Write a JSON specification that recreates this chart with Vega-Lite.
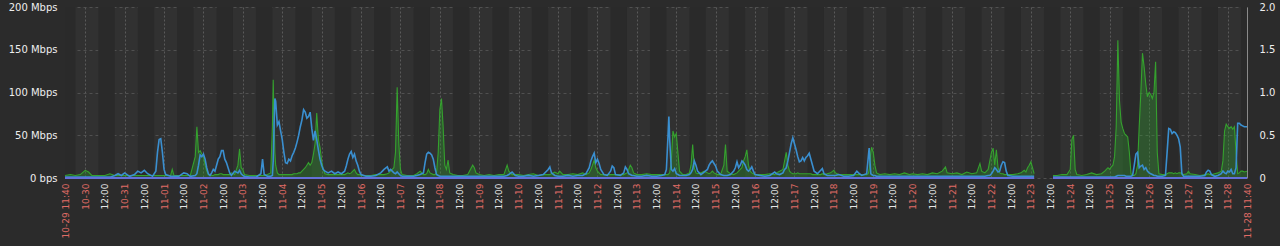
{
"$schema": "https://vega.github.io/schema/vega-lite/v6.json",
"width": 1182, "height": 171,
"autosize": "none",
"padding": {"left": 65, "top": 7, "right": 33, "bottom": 68},
"background": "#2b2b2b",
"config": {"view": {"fill": "#313131", "stroke": null}, "font": "DejaVu Sans"},
"datasets": {
"bands": [
{"s":"2023-10-29T11:40:00Z","e":"2023-10-29T18:00:00Z"},
{"s":"2023-10-30T08:00:00Z","e":"2023-10-30T18:00:00Z"},
{"s":"2023-10-31T08:00:00Z","e":"2023-10-31T18:00:00Z"},
{"s":"2023-11-01T08:00:00Z","e":"2023-11-01T18:00:00Z"},
{"s":"2023-11-02T08:00:00Z","e":"2023-11-02T18:00:00Z"},
{"s":"2023-11-03T08:00:00Z","e":"2023-11-03T18:00:00Z"},
{"s":"2023-11-04T08:00:00Z","e":"2023-11-04T18:00:00Z"},
{"s":"2023-11-05T08:00:00Z","e":"2023-11-05T18:00:00Z"},
{"s":"2023-11-06T08:00:00Z","e":"2023-11-06T18:00:00Z"},
{"s":"2023-11-07T08:00:00Z","e":"2023-11-07T18:00:00Z"},
{"s":"2023-11-08T08:00:00Z","e":"2023-11-08T18:00:00Z"},
{"s":"2023-11-09T08:00:00Z","e":"2023-11-09T18:00:00Z"},
{"s":"2023-11-10T08:00:00Z","e":"2023-11-10T18:00:00Z"},
{"s":"2023-11-11T08:00:00Z","e":"2023-11-11T18:00:00Z"},
{"s":"2023-11-12T08:00:00Z","e":"2023-11-12T18:00:00Z"},
{"s":"2023-11-13T08:00:00Z","e":"2023-11-13T18:00:00Z"},
{"s":"2023-11-14T08:00:00Z","e":"2023-11-14T18:00:00Z"},
{"s":"2023-11-15T08:00:00Z","e":"2023-11-15T18:00:00Z"},
{"s":"2023-11-16T08:00:00Z","e":"2023-11-16T18:00:00Z"},
{"s":"2023-11-17T08:00:00Z","e":"2023-11-17T18:00:00Z"},
{"s":"2023-11-18T08:00:00Z","e":"2023-11-18T18:00:00Z"},
{"s":"2023-11-19T08:00:00Z","e":"2023-11-19T18:00:00Z"},
{"s":"2023-11-20T08:00:00Z","e":"2023-11-20T18:00:00Z"},
{"s":"2023-11-21T08:00:00Z","e":"2023-11-21T18:00:00Z"},
{"s":"2023-11-22T08:00:00Z","e":"2023-11-22T18:00:00Z"},
{"s":"2023-11-23T08:00:00Z","e":"2023-11-23T18:00:00Z"},
{"s":"2023-11-24T08:00:00Z","e":"2023-11-24T18:00:00Z"},
{"s":"2023-11-25T08:00:00Z","e":"2023-11-25T18:00:00Z"},
{"s":"2023-11-26T08:00:00Z","e":"2023-11-26T18:00:00Z"},
{"s":"2023-11-27T08:00:00Z","e":"2023-11-27T18:00:00Z"},
{"s":"2023-11-28T08:00:00Z","e":"2023-11-28T11:40:00Z"}
],
"traffic": [
{"t":"2023-10-29T11:40:00Z","s":1,"b":1,"g":3},
{"t":"2023-10-29T15:00:00Z","s":1,"b":1,"g":4},
{"t":"2023-10-29T18:00:00Z","s":1,"b":1,"g":3},
{"t":"2023-10-29T21:00:00Z","s":1,"b":1,"g":4},
{"t":"2023-10-30T00:00:00Z","s":1,"b":1,"g":9},
{"t":"2023-10-30T02:00:00Z","s":1,"b":1,"g":7},
{"t":"2023-10-30T04:00:00Z","s":1,"b":1,"g":3},
{"t":"2023-10-30T08:00:00Z","s":1,"b":1,"g":3},
{"t":"2023-10-30T12:00:00Z","s":1,"b":1,"g":3},
{"t":"2023-10-30T15:00:00Z","s":1,"b":1,"g":5},
{"t":"2023-10-30T18:00:00Z","s":1,"b":3,"g":3},
{"t":"2023-10-30T20:00:00Z","s":1,"b":5,"g":3},
{"t":"2023-10-30T22:00:00Z","s":1,"b":3,"g":3},
{"t":"2023-10-31T00:00:00Z","s":1,"b":6,"g":3},
{"t":"2023-10-31T03:00:00Z","s":1,"b":2,"g":3},
{"t":"2023-10-31T06:00:00Z","s":1,"b":4,"g":3},
{"t":"2023-10-31T08:00:00Z","s":1,"b":8,"g":3},
{"t":"2023-10-31T10:00:00Z","s":1,"b":6,"g":3},
{"t":"2023-10-31T12:00:00Z","s":1,"b":9,"g":3},
{"t":"2023-10-31T14:00:00Z","s":1,"b":5,"g":3},
{"t":"2023-10-31T17:00:00Z","s":1,"b":2,"g":3},
{"t":"2023-10-31T19:00:00Z","s":1,"b":8,"g":3},
{"t":"2023-10-31T20:00:00Z","s":1,"b":30,"g":3},
{"t":"2023-10-31T21:00:00Z","s":1,"b":45,"g":3},
{"t":"2023-10-31T22:00:00Z","s":1,"b":46,"g":3},
{"t":"2023-10-31T23:00:00Z","s":1,"b":30,"g":3},
{"t":"2023-11-01T00:00:00Z","s":1,"b":10,"g":3},
{"t":"2023-11-01T01:00:00Z","s":1,"b":4,"g":3},
{"t":"2023-11-01T04:00:00Z","s":1,"b":2,"g":3},
{"t":"2023-11-01T05:00:00Z","s":1,"b":2,"g":10},
{"t":"2023-11-01T06:00:00Z","s":1,"b":2,"g":3},
{"t":"2023-11-01T09:00:00Z","s":1,"b":2,"g":3},
{"t":"2023-11-01T12:00:00Z","s":1,"b":6,"g":3},
{"t":"2023-11-01T14:00:00Z","s":1,"b":5,"g":3},
{"t":"2023-11-01T16:00:00Z","s":1,"b":2,"g":3},
{"t":"2023-11-01T19:00:00Z","s":1,"b":3,"g":25},
{"t":"2023-11-01T20:00:00Z","s":1,"b":5,"g":60},
{"t":"2023-11-01T21:00:00Z","s":1,"b":15,"g":30},
{"t":"2023-11-01T22:00:00Z","s":1,"b":27,"g":32},
{"t":"2023-11-01T23:00:00Z","s":1,"b":25,"g":28},
{"t":"2023-11-02T00:00:00Z","s":1,"b":28,"g":25},
{"t":"2023-11-02T01:00:00Z","s":1,"b":22,"g":15},
{"t":"2023-11-02T02:00:00Z","s":1,"b":12,"g":8},
{"t":"2023-11-02T03:00:00Z","s":1,"b":5,"g":4},
{"t":"2023-11-02T04:00:00Z","s":1,"b":3,"g":4},
{"t":"2023-11-02T05:00:00Z","s":1,"b":6,"g":3},
{"t":"2023-11-02T06:00:00Z","s":1,"b":10,"g":3},
{"t":"2023-11-02T07:00:00Z","s":1,"b":8,"g":4},
{"t":"2023-11-02T08:00:00Z","s":1,"b":15,"g":4},
{"t":"2023-11-02T09:00:00Z","s":1,"b":22,"g":4},
{"t":"2023-11-02T10:00:00Z","s":1,"b":25,"g":5},
{"t":"2023-11-02T11:00:00Z","s":1,"b":32,"g":5},
{"t":"2023-11-02T12:00:00Z","s":1,"b":32,"g":4},
{"t":"2023-11-02T13:00:00Z","s":1,"b":22,"g":4},
{"t":"2023-11-02T14:00:00Z","s":1,"b":18,"g":4},
{"t":"2023-11-02T15:00:00Z","s":1,"b":12,"g":4},
{"t":"2023-11-02T16:00:00Z","s":1,"b":6,"g":4},
{"t":"2023-11-02T17:00:00Z","s":1,"b":3,"g":6},
{"t":"2023-11-02T19:00:00Z","s":1,"b":8,"g":4},
{"t":"2023-11-02T21:00:00Z","s":1,"b":6,"g":15},
{"t":"2023-11-02T22:00:00Z","s":1,"b":9,"g":34},
{"t":"2023-11-02T23:00:00Z","s":1,"b":5,"g":12},
{"t":"2023-11-03T00:00:00Z","s":1,"b":3,"g":10},
{"t":"2023-11-03T01:00:00Z","s":1,"b":2,"g":4},
{"t":"2023-11-03T04:00:00Z","s":1,"b":1,"g":3},
{"t":"2023-11-03T08:00:00Z","s":1,"b":1,"g":3},
{"t":"2023-11-03T11:00:00Z","s":1,"b":5,"g":3},
{"t":"2023-11-03T12:00:00Z","s":1,"b":22,"g":3},
{"t":"2023-11-03T13:00:00Z","s":1,"b":4,"g":3},
{"t":"2023-11-03T15:00:00Z","s":1,"b":2,"g":4},
{"t":"2023-11-03T17:00:00Z","s":1,"b":2,"g":6},
{"t":"2023-11-03T18:00:00Z","s":1,"b":3,"g":60},
{"t":"2023-11-03T18:30:00Z","s":1,"b":20,"g":115},
{"t":"2023-11-03T19:00:00Z","s":1,"b":60,"g":70},
{"t":"2023-11-03T19:30:00Z","s":1,"b":93,"g":30},
{"t":"2023-11-03T20:00:00Z","s":1,"b":90,"g":15},
{"t":"2023-11-03T21:00:00Z","s":1,"b":62,"g":6},
{"t":"2023-11-03T22:00:00Z","s":1,"b":66,"g":4},
{"t":"2023-11-03T23:00:00Z","s":1,"b":55,"g":4},
{"t":"2023-11-04T00:00:00Z","s":1,"b":45,"g":4},
{"t":"2023-11-04T01:00:00Z","s":1,"b":30,"g":4},
{"t":"2023-11-04T02:00:00Z","s":1,"b":18,"g":4},
{"t":"2023-11-04T03:00:00Z","s":1,"b":17,"g":4},
{"t":"2023-11-04T04:00:00Z","s":1,"b":22,"g":4},
{"t":"2023-11-04T05:00:00Z","s":1,"b":20,"g":4},
{"t":"2023-11-04T06:00:00Z","s":1,"b":26,"g":4},
{"t":"2023-11-04T07:00:00Z","s":1,"b":30,"g":5},
{"t":"2023-11-04T08:00:00Z","s":1,"b":35,"g":5},
{"t":"2023-11-04T09:00:00Z","s":1,"b":42,"g":5},
{"t":"2023-11-04T10:00:00Z","s":1,"b":50,"g":6},
{"t":"2023-11-04T11:00:00Z","s":1,"b":60,"g":6},
{"t":"2023-11-04T12:00:00Z","s":1,"b":68,"g":8},
{"t":"2023-11-04T13:00:00Z","s":1,"b":80,"g":10},
{"t":"2023-11-04T14:00:00Z","s":1,"b":77,"g":12},
{"t":"2023-11-04T15:00:00Z","s":1,"b":70,"g":15},
{"t":"2023-11-04T16:00:00Z","s":1,"b":72,"g":18},
{"t":"2023-11-04T17:00:00Z","s":1,"b":77,"g":15},
{"t":"2023-11-04T18:00:00Z","s":1,"b":58,"g":18},
{"t":"2023-11-04T19:00:00Z","s":1,"b":44,"g":28},
{"t":"2023-11-04T20:00:00Z","s":1,"b":55,"g":40},
{"t":"2023-11-04T21:00:00Z","s":1,"b":45,"g":76},
{"t":"2023-11-04T22:00:00Z","s":1,"b":33,"g":45},
{"t":"2023-11-04T23:00:00Z","s":1,"b":22,"g":36},
{"t":"2023-11-05T00:00:00Z","s":1,"b":15,"g":20},
{"t":"2023-11-05T01:00:00Z","s":1,"b":10,"g":10},
{"t":"2023-11-05T02:00:00Z","s":1,"b":8,"g":5},
{"t":"2023-11-05T04:00:00Z","s":1,"b":6,"g":4},
{"t":"2023-11-05T06:00:00Z","s":1,"b":8,"g":4},
{"t":"2023-11-05T08:00:00Z","s":1,"b":5,"g":4},
{"t":"2023-11-05T10:00:00Z","s":1,"b":7,"g":4},
{"t":"2023-11-05T12:00:00Z","s":1,"b":5,"g":4},
{"t":"2023-11-05T14:00:00Z","s":1,"b":8,"g":4},
{"t":"2023-11-05T15:00:00Z","s":1,"b":14,"g":5},
{"t":"2023-11-05T16:00:00Z","s":1,"b":22,"g":6},
{"t":"2023-11-05T17:00:00Z","s":1,"b":28,"g":5},
{"t":"2023-11-05T18:00:00Z","s":1,"b":31,"g":6},
{"t":"2023-11-05T19:00:00Z","s":1,"b":24,"g":8},
{"t":"2023-11-05T20:00:00Z","s":1,"b":28,"g":10},
{"t":"2023-11-05T21:00:00Z","s":1,"b":20,"g":6},
{"t":"2023-11-05T22:00:00Z","s":1,"b":15,"g":4},
{"t":"2023-11-05T23:00:00Z","s":1,"b":8,"g":4},
{"t":"2023-11-06T00:00:00Z","s":1,"b":4,"g":3},
{"t":"2023-11-06T03:00:00Z","s":1,"b":2,"g":3},
{"t":"2023-11-06T06:00:00Z","s":1,"b":2,"g":3},
{"t":"2023-11-06T09:00:00Z","s":1,"b":3,"g":4},
{"t":"2023-11-06T12:00:00Z","s":1,"b":6,"g":4},
{"t":"2023-11-06T14:00:00Z","s":1,"b":10,"g":4},
{"t":"2023-11-06T16:00:00Z","s":1,"b":13,"g":5},
{"t":"2023-11-06T17:00:00Z","s":1,"b":8,"g":6},
{"t":"2023-11-06T18:00:00Z","s":1,"b":10,"g":8},
{"t":"2023-11-06T20:00:00Z","s":1,"b":6,"g":12},
{"t":"2023-11-06T21:00:00Z","s":1,"b":5,"g":30},
{"t":"2023-11-06T22:00:00Z","s":1,"b":7,"g":106},
{"t":"2023-11-06T23:00:00Z","s":1,"b":5,"g":40},
{"t":"2023-11-07T00:00:00Z","s":1,"b":3,"g":10},
{"t":"2023-11-07T01:00:00Z","s":1,"b":2,"g":4},
{"t":"2023-11-07T04:00:00Z","s":1,"b":2,"g":3},
{"t":"2023-11-07T08:00:00Z","s":1,"b":2,"g":3},
{"t":"2023-11-07T10:00:00Z","s":1,"b":3,"g":5},
{"t":"2023-11-07T12:00:00Z","s":1,"b":4,"g":8},
{"t":"2023-11-07T14:00:00Z","s":1,"b":6,"g":4},
{"t":"2023-11-07T15:00:00Z","s":1,"b":18,"g":4},
{"t":"2023-11-07T16:00:00Z","s":1,"b":28,"g":5},
{"t":"2023-11-07T17:00:00Z","s":1,"b":30,"g":10},
{"t":"2023-11-07T18:00:00Z","s":1,"b":29,"g":6},
{"t":"2023-11-07T19:00:00Z","s":1,"b":27,"g":5},
{"t":"2023-11-07T20:00:00Z","s":1,"b":22,"g":4},
{"t":"2023-11-07T21:00:00Z","s":1,"b":12,"g":4},
{"t":"2023-11-07T22:00:00Z","s":1,"b":4,"g":6},
{"t":"2023-11-07T23:00:00Z","s":1,"b":3,"g":30},
{"t":"2023-11-08T00:00:00Z","s":1,"b":2,"g":80},
{"t":"2023-11-08T01:00:00Z","s":1,"b":2,"g":93},
{"t":"2023-11-08T02:00:00Z","s":1,"b":2,"g":60},
{"t":"2023-11-08T03:00:00Z","s":1,"b":2,"g":15},
{"t":"2023-11-08T04:00:00Z","s":1,"b":2,"g":10},
{"t":"2023-11-08T05:00:00Z","s":1,"b":2,"g":21},
{"t":"2023-11-08T06:00:00Z","s":1,"b":2,"g":6},
{"t":"2023-11-08T08:00:00Z","s":1,"b":2,"g":4},
{"t":"2023-11-08T11:00:00Z","s":1,"b":2,"g":3},
{"t":"2023-11-08T14:00:00Z","s":1,"b":2,"g":3},
{"t":"2023-11-08T17:00:00Z","s":1,"b":2,"g":4},
{"t":"2023-11-08T20:00:00Z","s":1,"b":2,"g":15},
{"t":"2023-11-08T21:00:00Z","s":1,"b":2,"g":12},
{"t":"2023-11-08T22:00:00Z","s":1,"b":2,"g":6},
{"t":"2023-11-09T00:00:00Z","s":1,"b":2,"g":4},
{"t":"2023-11-09T03:00:00Z","s":1,"b":2,"g":3},
{"t":"2023-11-09T06:00:00Z","s":1,"b":2,"g":4},
{"t":"2023-11-09T09:00:00Z","s":1,"b":2,"g":3},
{"t":"2023-11-09T12:00:00Z","s":1,"b":2,"g":4},
{"t":"2023-11-09T15:00:00Z","s":1,"b":2,"g":4},
{"t":"2023-11-09T17:00:00Z","s":1,"b":3,"g":15},
{"t":"2023-11-09T18:00:00Z","s":1,"b":4,"g":8},
{"t":"2023-11-09T20:00:00Z","s":1,"b":7,"g":4},
{"t":"2023-11-09T22:00:00Z","s":1,"b":3,"g":4},
{"t":"2023-11-10T00:00:00Z","s":1,"b":2,"g":4},
{"t":"2023-11-10T03:00:00Z","s":1,"b":2,"g":3},
{"t":"2023-11-10T06:00:00Z","s":1,"b":3,"g":4},
{"t":"2023-11-10T09:00:00Z","s":1,"b":2,"g":5},
{"t":"2023-11-10T12:00:00Z","s":1,"b":3,"g":3},
{"t":"2023-11-10T15:00:00Z","s":1,"b":4,"g":4},
{"t":"2023-11-10T18:00:00Z","s":1,"b":10,"g":4},
{"t":"2023-11-10T19:00:00Z","s":1,"b":13,"g":4},
{"t":"2023-11-10T20:00:00Z","s":1,"b":6,"g":5},
{"t":"2023-11-10T22:00:00Z","s":1,"b":3,"g":7},
{"t":"2023-11-11T00:00:00Z","s":1,"b":2,"g":5},
{"t":"2023-11-11T01:00:00Z","s":1,"b":2,"g":8},
{"t":"2023-11-11T03:00:00Z","s":1,"b":2,"g":4},
{"t":"2023-11-11T06:00:00Z","s":1,"b":3,"g":4},
{"t":"2023-11-11T09:00:00Z","s":1,"b":2,"g":5},
{"t":"2023-11-11T12:00:00Z","s":1,"b":3,"g":4},
{"t":"2023-11-11T15:00:00Z","s":1,"b":3,"g":6},
{"t":"2023-11-11T17:00:00Z","s":1,"b":5,"g":4},
{"t":"2023-11-11T19:00:00Z","s":1,"b":12,"g":6},
{"t":"2023-11-11T20:00:00Z","s":1,"b":20,"g":10},
{"t":"2023-11-11T21:00:00Z","s":1,"b":25,"g":15},
{"t":"2023-11-11T22:00:00Z","s":1,"b":29,"g":21},
{"t":"2023-11-11T23:00:00Z","s":1,"b":18,"g":12},
{"t":"2023-11-12T00:00:00Z","s":1,"b":22,"g":8},
{"t":"2023-11-12T01:00:00Z","s":1,"b":17,"g":6},
{"t":"2023-11-12T02:00:00Z","s":1,"b":10,"g":4},
{"t":"2023-11-12T04:00:00Z","s":1,"b":4,"g":4},
{"t":"2023-11-12T06:00:00Z","s":1,"b":3,"g":4},
{"t":"2023-11-12T08:00:00Z","s":1,"b":8,"g":4},
{"t":"2023-11-12T09:00:00Z","s":1,"b":14,"g":4},
{"t":"2023-11-12T10:00:00Z","s":1,"b":12,"g":4},
{"t":"2023-11-12T11:00:00Z","s":1,"b":4,"g":4},
{"t":"2023-11-12T14:00:00Z","s":1,"b":3,"g":4},
{"t":"2023-11-12T16:00:00Z","s":1,"b":6,"g":4},
{"t":"2023-11-12T17:00:00Z","s":1,"b":13,"g":5},
{"t":"2023-11-12T18:00:00Z","s":1,"b":10,"g":6},
{"t":"2023-11-12T19:00:00Z","s":1,"b":5,"g":10},
{"t":"2023-11-12T20:00:00Z","s":1,"b":4,"g":15},
{"t":"2023-11-12T21:00:00Z","s":1,"b":3,"g":12},
{"t":"2023-11-12T22:00:00Z","s":1,"b":3,"g":6},
{"t":"2023-11-13T00:00:00Z","s":1,"b":2,"g":4},
{"t":"2023-11-13T03:00:00Z","s":1,"b":2,"g":4},
{"t":"2023-11-13T06:00:00Z","s":1,"b":3,"g":5},
{"t":"2023-11-13T09:00:00Z","s":1,"b":2,"g":4},
{"t":"2023-11-13T12:00:00Z","s":1,"b":2,"g":4},
{"t":"2023-11-13T15:00:00Z","s":1,"b":3,"g":4},
{"t":"2023-11-13T17:00:00Z","s":1,"b":4,"g":4},
{"t":"2023-11-13T18:00:00Z","s":1,"b":10,"g":4},
{"t":"2023-11-13T19:00:00Z","s":1,"b":50,"g":4},
{"t":"2023-11-13T19:30:00Z","s":1,"b":72,"g":5},
{"t":"2023-11-13T20:00:00Z","s":1,"b":45,"g":6},
{"t":"2023-11-13T21:00:00Z","s":1,"b":10,"g":20},
{"t":"2023-11-13T22:00:00Z","s":1,"b":8,"g":55},
{"t":"2023-11-13T23:00:00Z","s":1,"b":11,"g":48},
{"t":"2023-11-14T00:00:00Z","s":1,"b":5,"g":52},
{"t":"2023-11-14T01:00:00Z","s":1,"b":4,"g":30},
{"t":"2023-11-14T02:00:00Z","s":1,"b":3,"g":8},
{"t":"2023-11-14T04:00:00Z","s":1,"b":3,"g":4},
{"t":"2023-11-14T06:00:00Z","s":1,"b":3,"g":4},
{"t":"2023-11-14T08:00:00Z","s":1,"b":4,"g":6},
{"t":"2023-11-14T09:00:00Z","s":1,"b":6,"g":15},
{"t":"2023-11-14T10:00:00Z","s":1,"b":10,"g":39},
{"t":"2023-11-14T11:00:00Z","s":1,"b":20,"g":12},
{"t":"2023-11-14T12:00:00Z","s":1,"b":15,"g":6},
{"t":"2023-11-14T13:00:00Z","s":1,"b":8,"g":5},
{"t":"2023-11-14T15:00:00Z","s":1,"b":4,"g":6},
{"t":"2023-11-14T17:00:00Z","s":1,"b":7,"g":8},
{"t":"2023-11-14T19:00:00Z","s":1,"b":10,"g":6},
{"t":"2023-11-14T20:00:00Z","s":1,"b":15,"g":5},
{"t":"2023-11-14T21:00:00Z","s":1,"b":18,"g":6},
{"t":"2023-11-14T22:00:00Z","s":1,"b":20,"g":8},
{"t":"2023-11-14T23:00:00Z","s":1,"b":17,"g":6},
{"t":"2023-11-15T00:00:00Z","s":1,"b":14,"g":5},
{"t":"2023-11-15T01:00:00Z","s":1,"b":8,"g":4},
{"t":"2023-11-15T03:00:00Z","s":1,"b":4,"g":4},
{"t":"2023-11-15T05:00:00Z","s":1,"b":3,"g":15},
{"t":"2023-11-15T06:00:00Z","s":1,"b":3,"g":39},
{"t":"2023-11-15T07:00:00Z","s":1,"b":3,"g":8},
{"t":"2023-11-15T09:00:00Z","s":1,"b":4,"g":5},
{"t":"2023-11-15T11:00:00Z","s":1,"b":8,"g":4},
{"t":"2023-11-15T12:00:00Z","s":1,"b":12,"g":5},
{"t":"2023-11-15T13:00:00Z","s":1,"b":19,"g":6},
{"t":"2023-11-15T14:00:00Z","s":1,"b":12,"g":8},
{"t":"2023-11-15T15:00:00Z","s":1,"b":15,"g":10},
{"t":"2023-11-15T16:00:00Z","s":1,"b":20,"g":12},
{"t":"2023-11-15T17:00:00Z","s":1,"b":18,"g":20},
{"t":"2023-11-15T18:00:00Z","s":1,"b":15,"g":25},
{"t":"2023-11-15T19:00:00Z","s":1,"b":10,"g":33},
{"t":"2023-11-15T20:00:00Z","s":1,"b":8,"g":15},
{"t":"2023-11-15T21:00:00Z","s":1,"b":10,"g":8},
{"t":"2023-11-15T22:00:00Z","s":1,"b":13,"g":6},
{"t":"2023-11-15T23:00:00Z","s":1,"b":8,"g":5},
{"t":"2023-11-16T00:00:00Z","s":1,"b":4,"g":4},
{"t":"2023-11-16T03:00:00Z","s":1,"b":3,"g":4},
{"t":"2023-11-16T06:00:00Z","s":1,"b":2,"g":4},
{"t":"2023-11-16T09:00:00Z","s":1,"b":3,"g":5},
{"t":"2023-11-16T12:00:00Z","s":1,"b":7,"g":4},
{"t":"2023-11-16T13:00:00Z","s":1,"b":5,"g":6},
{"t":"2023-11-16T15:00:00Z","s":1,"b":4,"g":8},
{"t":"2023-11-16T17:00:00Z","s":1,"b":6,"g":10},
{"t":"2023-11-16T18:00:00Z","s":1,"b":10,"g":20},
{"t":"2023-11-16T19:00:00Z","s":1,"b":12,"g":30},
{"t":"2023-11-16T20:00:00Z","s":1,"b":20,"g":15},
{"t":"2023-11-16T21:00:00Z","s":1,"b":30,"g":8},
{"t":"2023-11-16T22:00:00Z","s":1,"b":40,"g":6},
{"t":"2023-11-16T23:00:00Z","s":1,"b":47,"g":5},
{"t":"2023-11-17T00:00:00Z","s":1,"b":40,"g":5},
{"t":"2023-11-17T01:00:00Z","s":1,"b":33,"g":5},
{"t":"2023-11-17T02:00:00Z","s":1,"b":25,"g":6},
{"t":"2023-11-17T03:00:00Z","s":1,"b":19,"g":5},
{"t":"2023-11-17T04:00:00Z","s":1,"b":20,"g":5},
{"t":"2023-11-17T05:00:00Z","s":1,"b":24,"g":5},
{"t":"2023-11-17T06:00:00Z","s":1,"b":20,"g":5},
{"t":"2023-11-17T07:00:00Z","s":1,"b":24,"g":5},
{"t":"2023-11-17T08:00:00Z","s":1,"b":26,"g":5},
{"t":"2023-11-17T09:00:00Z","s":1,"b":29,"g":5},
{"t":"2023-11-17T10:00:00Z","s":1,"b":22,"g":5},
{"t":"2023-11-17T11:00:00Z","s":1,"b":15,"g":4},
{"t":"2023-11-17T12:00:00Z","s":1,"b":8,"g":4},
{"t":"2023-11-17T14:00:00Z","s":1,"b":5,"g":4},
{"t":"2023-11-17T16:00:00Z","s":1,"b":9,"g":4},
{"t":"2023-11-17T17:00:00Z","s":1,"b":11,"g":5},
{"t":"2023-11-17T18:00:00Z","s":1,"b":5,"g":4},
{"t":"2023-11-17T20:00:00Z","s":1,"b":3,"g":5},
{"t":"2023-11-17T22:00:00Z","s":1,"b":3,"g":6},
{"t":"2023-11-18T00:00:00Z","s":1,"b":3,"g":9},
{"t":"2023-11-18T01:00:00Z","s":1,"b":3,"g":6},
{"t":"2023-11-18T03:00:00Z","s":1,"b":4,"g":4},
{"t":"2023-11-18T06:00:00Z","s":1,"b":2,"g":4},
{"t":"2023-11-18T09:00:00Z","s":1,"b":2,"g":4},
{"t":"2023-11-18T12:00:00Z","s":1,"b":3,"g":4},
{"t":"2023-11-18T14:00:00Z","s":1,"b":8,"g":4},
{"t":"2023-11-18T15:00:00Z","s":1,"b":6,"g":4},
{"t":"2023-11-18T17:00:00Z","s":1,"b":3,"g":4},
{"t":"2023-11-18T20:00:00Z","s":1,"b":5,"g":4},
{"t":"2023-11-18T21:00:00Z","s":1,"b":25,"g":5},
{"t":"2023-11-18T21:30:00Z","s":1,"b":35,"g":10},
{"t":"2023-11-18T22:00:00Z","s":1,"b":20,"g":20},
{"t":"2023-11-18T22:30:00Z","s":1,"b":5,"g":30},
{"t":"2023-11-18T23:00:00Z","s":1,"b":4,"g":36},
{"t":"2023-11-19T00:00:00Z","s":1,"b":3,"g":30},
{"t":"2023-11-19T01:00:00Z","s":1,"b":3,"g":15},
{"t":"2023-11-19T02:00:00Z","s":1,"b":2,"g":6},
{"t":"2023-11-19T04:00:00Z","s":1,"b":2,"g":4},
{"t":"2023-11-19T07:00:00Z","s":1,"b":2,"g":5},
{"t":"2023-11-19T10:00:00Z","s":1,"b":2,"g":4},
{"t":"2023-11-19T13:00:00Z","s":1,"b":2,"g":5},
{"t":"2023-11-19T16:00:00Z","s":1,"b":2,"g":4},
{"t":"2023-11-19T19:00:00Z","s":1,"b":2,"g":6},
{"t":"2023-11-19T22:00:00Z","s":1,"b":2,"g":4},
{"t":"2023-11-20T00:00:00Z","s":1,"b":2,"g":5},
{"t":"2023-11-20T03:00:00Z","s":1,"b":2,"g":4},
{"t":"2023-11-20T06:00:00Z","s":1,"b":2,"g":5},
{"t":"2023-11-20T09:00:00Z","s":1,"b":2,"g":4},
{"t":"2023-11-20T12:00:00Z","s":1,"b":2,"g":6},
{"t":"2023-11-20T15:00:00Z","s":1,"b":2,"g":5},
{"t":"2023-11-20T18:00:00Z","s":1,"b":2,"g":8},
{"t":"2023-11-20T20:00:00Z","s":1,"b":2,"g":13},
{"t":"2023-11-20T21:00:00Z","s":1,"b":2,"g":6},
{"t":"2023-11-21T00:00:00Z","s":1,"b":2,"g":5},
{"t":"2023-11-21T03:00:00Z","s":1,"b":2,"g":6},
{"t":"2023-11-21T06:00:00Z","s":1,"b":2,"g":4},
{"t":"2023-11-21T09:00:00Z","s":1,"b":2,"g":7},
{"t":"2023-11-21T12:00:00Z","s":1,"b":2,"g":5},
{"t":"2023-11-21T15:00:00Z","s":1,"b":2,"g":6},
{"t":"2023-11-21T17:00:00Z","s":1,"b":2,"g":17},
{"t":"2023-11-21T18:00:00Z","s":1,"b":2,"g":8},
{"t":"2023-11-21T20:00:00Z","s":1,"b":2,"g":6},
{"t":"2023-11-21T22:00:00Z","s":1,"b":3,"g":10},
{"t":"2023-11-21T23:00:00Z","s":1,"b":3,"g":20},
{"t":"2023-11-22T00:00:00Z","s":1,"b":5,"g":30},
{"t":"2023-11-22T01:00:00Z","s":1,"b":8,"g":35},
{"t":"2023-11-22T02:00:00Z","s":1,"b":12,"g":15},
{"t":"2023-11-22T03:00:00Z","s":1,"b":10,"g":33},
{"t":"2023-11-22T04:00:00Z","s":1,"b":7,"g":12},
{"t":"2023-11-22T05:00:00Z","s":1,"b":8,"g":6},
{"t":"2023-11-22T06:00:00Z","s":1,"b":15,"g":5},
{"t":"2023-11-22T07:00:00Z","s":1,"b":19,"g":5},
{"t":"2023-11-22T08:00:00Z","s":1,"b":18,"g":4},
{"t":"2023-11-22T09:00:00Z","s":1,"b":8,"g":4},
{"t":"2023-11-22T10:00:00Z","s":1,"b":3,"g":4},
{"t":"2023-11-22T13:00:00Z","s":1,"b":2,"g":4},
{"t":"2023-11-22T16:00:00Z","s":1,"b":2,"g":5},
{"t":"2023-11-22T18:00:00Z","s":1,"b":2,"g":6},
{"t":"2023-11-22T20:00:00Z","s":1,"b":2,"g":9},
{"t":"2023-11-22T21:00:00Z","s":1,"b":2,"g":7},
{"t":"2023-11-22T22:00:00Z","s":1,"b":2,"g":12},
{"t":"2023-11-22T23:00:00Z","s":1,"b":2,"g":15},
{"t":"2023-11-23T00:00:00Z","s":1,"b":2,"g":19},
{"t":"2023-11-23T01:00:00Z","s":1,"b":2,"g":12},
{"t":"2023-11-23T02:00:00Z","s":1,"b":2,"g":5},
{"t":"2023-11-23T13:30:00Z","s":2,"b":1,"g":3},
{"t":"2023-11-23T16:00:00Z","s":2,"b":1,"g":3},
{"t":"2023-11-23T19:00:00Z","s":2,"b":1,"g":4},
{"t":"2023-11-23T22:00:00Z","s":2,"b":1,"g":4},
{"t":"2023-11-24T00:00:00Z","s":2,"b":1,"g":10},
{"t":"2023-11-24T01:00:00Z","s":2,"b":1,"g":45},
{"t":"2023-11-24T02:00:00Z","s":2,"b":1,"g":50},
{"t":"2023-11-24T03:00:00Z","s":2,"b":1,"g":10},
{"t":"2023-11-24T04:00:00Z","s":2,"b":1,"g":4},
{"t":"2023-11-24T07:00:00Z","s":2,"b":1,"g":3},
{"t":"2023-11-24T10:00:00Z","s":2,"b":1,"g":4},
{"t":"2023-11-24T13:00:00Z","s":2,"b":1,"g":6},
{"t":"2023-11-24T16:00:00Z","s":2,"b":1,"g":4},
{"t":"2023-11-24T19:00:00Z","s":2,"b":1,"g":5},
{"t":"2023-11-24T21:00:00Z","s":2,"b":1,"g":8},
{"t":"2023-11-24T22:00:00Z","s":2,"b":1,"g":10},
{"t":"2023-11-24T23:00:00Z","s":2,"b":1,"g":12},
{"t":"2023-11-25T00:00:00Z","s":2,"b":1,"g":10},
{"t":"2023-11-25T01:00:00Z","s":2,"b":1,"g":13},
{"t":"2023-11-25T02:00:00Z","s":2,"b":1,"g":15},
{"t":"2023-11-25T03:00:00Z","s":2,"b":1,"g":25},
{"t":"2023-11-25T04:00:00Z","s":2,"b":2,"g":60},
{"t":"2023-11-25T05:00:00Z","s":2,"b":3,"g":161},
{"t":"2023-11-25T06:00:00Z","s":2,"b":3,"g":90},
{"t":"2023-11-25T07:00:00Z","s":2,"b":3,"g":65},
{"t":"2023-11-25T08:00:00Z","s":2,"b":3,"g":58},
{"t":"2023-11-25T09:00:00Z","s":2,"b":3,"g":52},
{"t":"2023-11-25T10:00:00Z","s":2,"b":2,"g":50},
{"t":"2023-11-25T11:00:00Z","s":2,"b":2,"g":48},
{"t":"2023-11-25T12:00:00Z","s":2,"b":2,"g":30},
{"t":"2023-11-25T13:00:00Z","s":2,"b":2,"g":5},
{"t":"2023-11-25T14:00:00Z","s":2,"b":3,"g":3},
{"t":"2023-11-25T15:00:00Z","s":2,"b":15,"g":3},
{"t":"2023-11-25T16:00:00Z","s":2,"b":28,"g":5},
{"t":"2023-11-25T17:00:00Z","s":2,"b":30,"g":15},
{"t":"2023-11-25T18:00:00Z","s":2,"b":12,"g":60},
{"t":"2023-11-25T19:00:00Z","s":2,"b":14,"g":100},
{"t":"2023-11-25T20:00:00Z","s":2,"b":15,"g":146},
{"t":"2023-11-25T21:00:00Z","s":2,"b":10,"g":130},
{"t":"2023-11-25T22:00:00Z","s":2,"b":12,"g":110},
{"t":"2023-11-25T23:00:00Z","s":2,"b":8,"g":95},
{"t":"2023-11-26T00:00:00Z","s":2,"b":6,"g":100},
{"t":"2023-11-26T01:00:00Z","s":2,"b":5,"g":98},
{"t":"2023-11-26T02:00:00Z","s":2,"b":4,"g":93},
{"t":"2023-11-26T03:00:00Z","s":2,"b":3,"g":100},
{"t":"2023-11-26T04:00:00Z","s":2,"b":3,"g":136},
{"t":"2023-11-26T05:00:00Z","s":2,"b":2,"g":30},
{"t":"2023-11-26T06:00:00Z","s":2,"b":2,"g":5},
{"t":"2023-11-26T08:00:00Z","s":2,"b":2,"g":4},
{"t":"2023-11-26T10:00:00Z","s":2,"b":3,"g":4},
{"t":"2023-11-26T11:00:00Z","s":2,"b":30,"g":5},
{"t":"2023-11-26T12:00:00Z","s":2,"b":58,"g":6},
{"t":"2023-11-26T13:00:00Z","s":2,"b":57,"g":6},
{"t":"2023-11-26T14:00:00Z","s":2,"b":52,"g":6},
{"t":"2023-11-26T15:00:00Z","s":2,"b":54,"g":5},
{"t":"2023-11-26T16:00:00Z","s":2,"b":53,"g":6},
{"t":"2023-11-26T17:00:00Z","s":2,"b":50,"g":5},
{"t":"2023-11-26T18:00:00Z","s":2,"b":46,"g":6},
{"t":"2023-11-26T19:00:00Z","s":2,"b":36,"g":6},
{"t":"2023-11-26T20:00:00Z","s":2,"b":5,"g":5},
{"t":"2023-11-26T21:00:00Z","s":2,"b":2,"g":4},
{"t":"2023-11-26T23:00:00Z","s":2,"b":2,"g":5},
{"t":"2023-11-27T00:00:00Z","s":2,"b":2,"g":8},
{"t":"2023-11-27T01:00:00Z","s":2,"b":2,"g":5},
{"t":"2023-11-27T04:00:00Z","s":2,"b":2,"g":4},
{"t":"2023-11-27T07:00:00Z","s":2,"b":2,"g":3},
{"t":"2023-11-27T10:00:00Z","s":2,"b":3,"g":4},
{"t":"2023-11-27T11:00:00Z","s":2,"b":7,"g":4},
{"t":"2023-11-27T12:00:00Z","s":2,"b":9,"g":5},
{"t":"2023-11-27T13:00:00Z","s":2,"b":8,"g":4},
{"t":"2023-11-27T14:00:00Z","s":2,"b":4,"g":4},
{"t":"2023-11-27T16:00:00Z","s":2,"b":2,"g":5},
{"t":"2023-11-27T18:00:00Z","s":2,"b":3,"g":6},
{"t":"2023-11-27T20:00:00Z","s":2,"b":5,"g":8},
{"t":"2023-11-27T21:00:00Z","s":2,"b":8,"g":20},
{"t":"2023-11-27T22:00:00Z","s":2,"b":6,"g":55},
{"t":"2023-11-27T23:00:00Z","s":2,"b":5,"g":63},
{"t":"2023-11-28T00:00:00Z","s":2,"b":8,"g":60},
{"t":"2023-11-28T01:00:00Z","s":2,"b":7,"g":58},
{"t":"2023-11-28T02:00:00Z","s":2,"b":10,"g":60},
{"t":"2023-11-28T03:00:00Z","s":2,"b":5,"g":57},
{"t":"2023-11-28T04:00:00Z","s":2,"b":5,"g":60},
{"t":"2023-11-28T05:00:00Z","s":2,"b":12,"g":30},
{"t":"2023-11-28T06:00:00Z","s":2,"b":64,"g":5},
{"t":"2023-11-28T07:00:00Z","s":2,"b":64,"g":6},
{"t":"2023-11-28T08:00:00Z","s":2,"b":62,"g":8},
{"t":"2023-11-28T09:00:00Z","s":2,"b":61,"g":8},
{"t":"2023-11-28T10:00:00Z","s":2,"b":60,"g":7},
{"t":"2023-11-28T11:40:00Z","s":2,"b":60,"g":8}
]
},
"layer": [
{
"layer": [
{
"data": {"name": "bands"},
"mark": {"type": "rect", "color": "#2a2a2a", "clip": true},
"encoding": {
"x": {"field": "s", "type": "temporal",
"scale": {"type": "utc", "domain": [1698579600000, 1701171600000]},
"axis": {
"title": null,
"tickCount": 200,
"values": [1698579600000,1698624000000,1698667200000,1698710400000,1698753600000,1698796800000,1698840000000,1698883200000,1698926400000,1698969600000,1699012800000,1699056000000,1699099200000,1699142400000,1699185600000,1699228800000,1699272000000,1699315200000,1699358400000,1699401600000,1699444800000,1699488000000,1699531200000,1699574400000,1699617600000,1699660800000,1699704000000,1699747200000,1699790400000,1699833600000,1699876800000,1699920000000,1699963200000,1700006400000,1700049600000,1700092800000,1700136000000,1700179200000,1700222400000,1700265600000,1700308800000,1700352000000,1700395200000,1700438400000,1700481600000,1700524800000,1700568000000,1700611200000,1700654400000,1700697600000,1700740800000,1700784000000,1700827200000,1700870400000,1700913600000,1700956800000,1701000000000,1701043200000,1701086400000,1701129600000,1701171600000],
"labelExpr": "utcFormat(datum.value,'%H:%M')=='12:00' ? '12:00' : (utcFormat(datum.value,'%H:%M')=='00:00' ? utcFormat(datum.value,'%m-%d') : utcFormat(datum.value,'%m-%d %H:%M'))",
"labelColor": {"condition": {"test": "utcFormat(datum.value,'%H:%M')=='12:00'", "value": "#e6e6e6"}, "value": "#e06b66"},
"labelAngle": -90,
"labelFontSize": 9,
"labelFont": "DejaVu Sans",
"labelPadding": 5,
"labelOverlap": false,
"labelFlush": false,
"labelBound": false,
"ticks": false,
"domain": false,
"grid": true,
"gridColor": "#5a5a5a",
"gridDash": [2, 2],
"gridWidth": 1
}
},
"x2": {"field": "e"}
}
},
{
"data": {"name": "traffic"},
"mark": {"type": "area", "color": "#2e9a2e", "opacity": 0.35},
"encoding": {
"x": {"field": "t", "type": "temporal"},
"y": {"field": "g", "type": "quantitative", "stack": null,
"scale": {"domain": [0, 200], "nice": false},
"axis": {
"title": null,
"values": [0, 50, 100, 150, 200],
"labelExpr": "datum.value == 0 ? '0 bps' : datum.value + ' Mbps'",
"labelColor": "#eeeeee",
"labelFontSize": 10,
"labelFont": "DejaVu Sans",
"labelPadding": 8,
"ticks": false,
"domain": true,
"domainColor": "#8a8a8a",
"grid": true,
"gridColor": "#505050",
"gridDash": [3, 3]
}
},
"detail": {"field": "s", "type": "nominal"}
}
},
{
"data": {"name": "traffic"},
"mark": {"type": "line", "color": "#35a12e", "strokeWidth": 1.1},
"encoding": {
"x": {"field": "t", "type": "temporal"},
"y": {"field": "g", "type": "quantitative"},
"detail": {"field": "s", "type": "nominal"}
}
},
{
"data": {"name": "traffic"},
"mark": {"type": "line", "color": "#3a8fd0", "strokeWidth": 1.6},
"encoding": {
"x": {"field": "t", "type": "temporal"},
"y": {"field": "b", "type": "quantitative"},
"detail": {"field": "s", "type": "nominal"}
}
},
{
"mark": {"type": "point", "shape": "triangle-up", "filled": true, "size": 22, "color": "#e0e0e0", "opacity": 1, "clip": false},
"encoding": {
"x": {"datum": {"year": 2023, "month": 10, "date": 29, "hours": 11, "minutes": 40, "utc": true}, "type": "temporal"},
"y": {"datum": 206, "type": "quantitative"}
}
},
{
"mark": {"type": "point", "shape": "triangle-up", "filled": true, "size": 22, "color": "#e0e0e0", "opacity": 1, "clip": false},
"encoding": {
"x": {"datum": {"year": 2023, "month": 11, "date": 28, "hours": 11, "minutes": 40, "utc": true}, "type": "temporal"},
"y": {"datum": 206, "type": "quantitative"}
}
},
{
"mark": {"type": "point", "shape": "triangle-right", "filled": true, "size": 22, "color": "#e0e0e0", "opacity": 1, "clip": false},
"encoding": {
"x": {"datum": {"year": 2023, "month": 11, "date": 28, "hours": 13, "minutes": 40, "utc": true}, "type": "temporal"},
"y": {"datum": 0, "type": "quantitative"}
}
}
]
},
{
"data": {"name": "traffic"},
"mark": {"type": "line", "color": "#6470d8", "strokeWidth": 2},
"encoding": {
"x": {"field": "t", "type": "temporal"},
"y": {"datum": 0, "type": "quantitative",
"scale": {"domain": [0, 2], "nice": false},
"axis": {
"orient": "right",
"title": null,
"values": [0, 0.5, 1, 1.5, 2],
"labelExpr": "datum.value == 0 ? '0' : format(datum.value, '.1f')",
"labelColor": "#eeeeee",
"labelFontSize": 10,
"labelFont": "DejaVu Sans",
"labelPadding": 12,
"ticks": false,
"domain": true,
"domainColor": "#8a8a8a",
"grid": false
}
},
"detail": {"field": "s", "type": "nominal"}
}
}
],
"resolve": {"scale": {"y": "independent"}}
}
